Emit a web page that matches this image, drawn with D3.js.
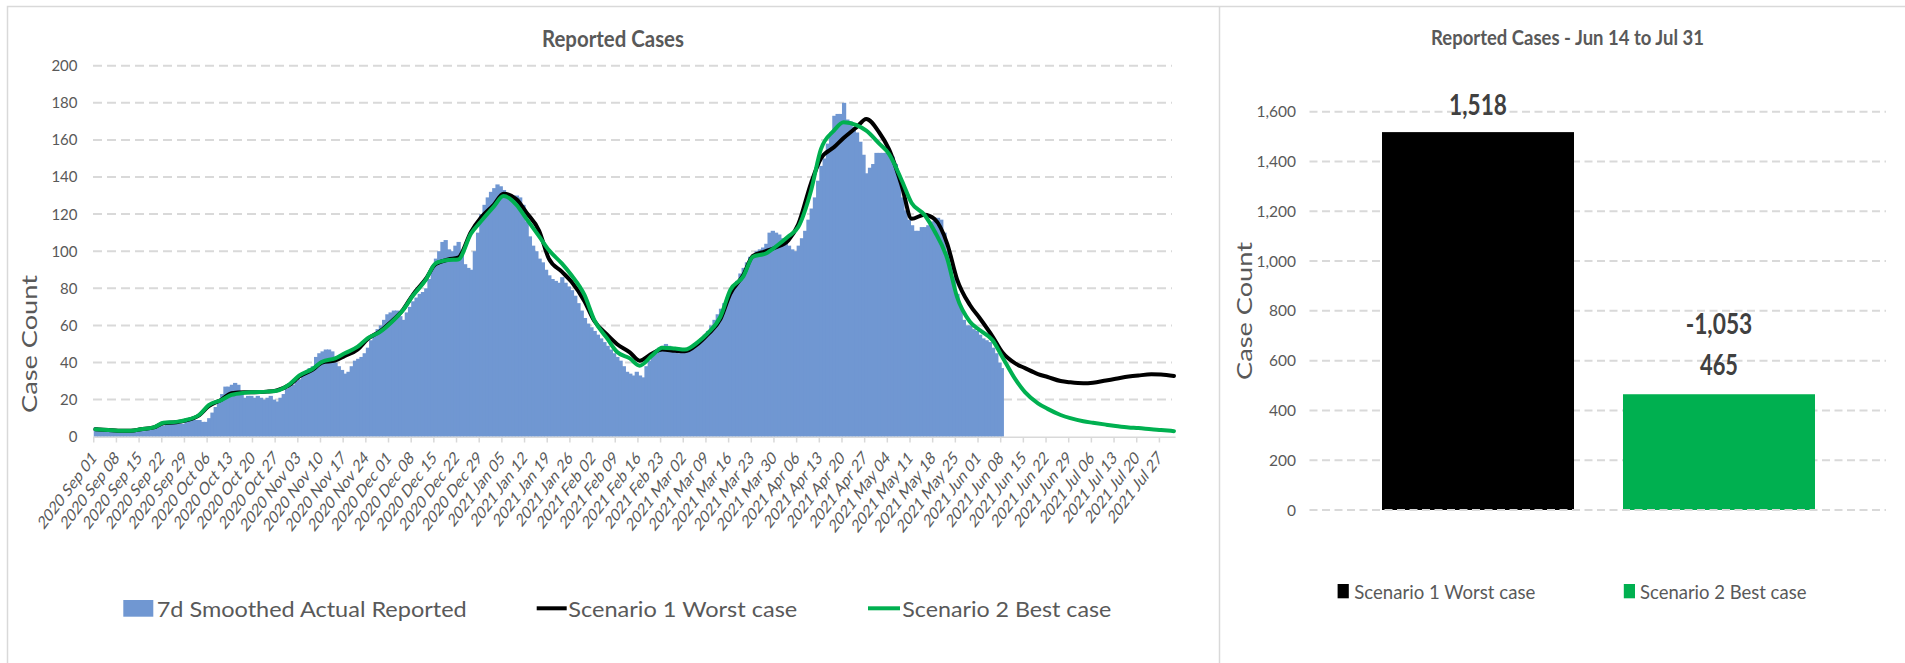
<!DOCTYPE html>
<html>
<head>
<meta charset="utf-8">
<script src="https://cdn.jsdelivr.net/npm/d3@7"></script>
<style>
  body { margin: 0; background: #fff; }
  text { font-family: Lato, "Open Sans", sans-serif; fill: #595959; }
</style>
</head>
<body>
<svg id="chart"></svg>
<script>
// ---------- data ----------
const barStart = "2020 Sep 01";

// 7d smoothed actual reported, one value per day from Sep 01 2020 to Jun 08 2021
const actualReported = [
  5, 4, 4, 3, 3, 3, 3,
  3, 3, 3, 3, 3, 3, 4,
  4, 3, 4, 4, 5, 5, 6,
  6, 7, 7, 8, 8, 7, 7,
  8, 9, 10, 9, 9, 8, 8,
  10, 13, 16, 20, 23, 27, 27,
  28, 29, 28, 24, 21, 22, 22,
  21, 22, 21, 20, 21, 22, 20,
  19, 21, 23, 26, 27, 28, 30,
  31, 33, 35, 37, 38, 43, 45,
  46, 47, 47, 46, 40, 38, 36,
  34, 35, 38, 41, 42, 43, 45,
  48, 52, 55, 58, 60, 63, 66,
  67, 68, 68, 65, 63, 67, 70,
  73, 75, 77, 78, 80, 85, 92,
  96, 100, 105, 106, 101, 100, 103,
  105, 100, 93, 91, 90, 100, 110,
  120, 125, 129, 132, 134, 136, 135,
  133, 131, 130, 130, 130, 129, 125,
  116, 108, 103, 100, 96, 94, 90,
  87, 85, 84, 83, 86, 83, 81,
  79, 76, 72, 68, 64, 61, 59,
  57, 55, 53, 51, 49, 47, 45,
  43, 41, 38, 35, 34, 33, 35,
  33, 32, 38, 41, 44, 46, 48,
  49, 50, 49, 47, 47, 45, 47,
  46, 47, 48, 50, 51, 53, 55,
  57, 60, 63, 66, 69, 72, 75,
  77, 80, 84, 88, 91, 94, 97,
  98, 100, 101, 102, 104, 110, 111,
  110, 109, 107, 105, 103, 101, 100,
  103, 107, 111, 117, 123, 129, 138,
  146, 150, 158, 164, 173, 174, 174,
  180, 171, 170, 167, 164, 159, 152,
  142, 145, 147, 153, 153, 153, 153,
  152, 151, 147, 138, 129, 122, 117,
  114, 111, 111, 113, 113, 114, 116,
  118, 118, 117, 110, 100, 92, 86,
  77, 70, 63, 60, 60, 58, 57,
  55, 53, 52, 51, 48, 45, 40,
  37
];

const lineDates = [
  "2020 Sep 01","2020 Sep 05","2020 Sep 08","2020 Sep 12","2020 Sep 15","2020 Sep 19",
  "2020 Sep 22","2020 Sep 26","2020 Sep 29","2020 Oct 03","2020 Oct 06","2020 Oct 10",
  "2020 Oct 13","2020 Oct 17","2020 Oct 20","2020 Oct 24","2020 Oct 27","2020 Oct 31",
  "2020 Nov 03","2020 Nov 07","2020 Nov 10","2020 Nov 14","2020 Nov 17","2020 Nov 21",
  "2020 Nov 24","2020 Nov 28","2020 Dec 01","2020 Dec 05","2020 Dec 08","2020 Dec 12",
  "2020 Dec 15","2020 Dec 19","2020 Dec 22","2020 Dec 26","2020 Dec 29","2021 Jan 02",
  "2021 Jan 05","2021 Jan 09","2021 Jan 12","2021 Jan 16","2021 Jan 19","2021 Jan 23",
  "2021 Jan 26","2021 Jan 30","2021 Feb 02","2021 Feb 06","2021 Feb 09","2021 Feb 13",
  "2021 Feb 16","2021 Feb 20","2021 Feb 23","2021 Feb 27","2021 Mar 02","2021 Mar 06",
  "2021 Mar 09","2021 Mar 13","2021 Mar 16","2021 Mar 20","2021 Mar 23","2021 Mar 27",
  "2021 Mar 30","2021 Apr 03","2021 Apr 06","2021 Apr 10","2021 Apr 13","2021 Apr 17",
  "2021 Apr 20","2021 Apr 24","2021 Apr 27","2021 May 01","2021 May 04","2021 May 08",
  "2021 May 11","2021 May 15","2021 May 18","2021 May 22","2021 May 25","2021 May 29",
  "2021 Jun 01","2021 Jun 05","2021 Jun 08","2021 Jun 12","2021 Jun 15","2021 Jun 19",
  "2021 Jun 22","2021 Jun 26","2021 Jun 29","2021 Jul 03","2021 Jul 06","2021 Jul 10",
  "2021 Jul 13","2021 Jul 17","2021 Jul 20","2021 Jul 24","2021 Jul 27","2021 Jul 31"
];

const worstCase = [
  4, 3.6, 3.2, 3.2, 4, 5, 7.3, 7.8, 8.8, 11.5, 16.5, 20,
  23.5, 24, 24, 24.3, 25, 28, 32.5, 36, 40, 41, 43.5, 47,
  52.5, 57, 61.5, 68.5, 76.5, 85, 93, 95.5, 96.5, 110.5, 118, 125,
  131, 128, 121, 111, 96, 89, 83.5, 73, 62.5, 55, 50, 45.5,
  41, 45, 47, 46.3, 46, 50, 55, 63.5, 77, 87, 97.5, 100,
  102, 106, 114.5, 137, 150, 156, 161, 166.8, 171.3, 164, 155, 135,
  117.5, 119.7, 117.5, 104, 85, 71, 64, 54, 45.5, 39.5, 37, 33.8,
  32.2, 30, 29.3, 28.8, 29.1, 30.3, 31.2, 32.4, 33, 33.6, 33.5, 32.7
];

const bestCase = [
  4, 3.6, 3.2, 3.2, 4, 5, 7.5, 8, 9, 11.7, 17, 19.8,
  22.5, 23.7, 24, 24.3, 24.8, 28.4, 33, 36.5, 40.4, 42.2, 45, 48.5,
  53, 56.6, 61, 68.3, 76, 84.5, 93.4, 95.2, 95.5, 109.6, 116, 124,
  129.7, 125, 117.7, 108, 100.6, 93.4, 87, 76.4, 63, 53, 45.8, 42.2,
  38.3, 44, 48, 47.5, 47, 51, 55.7, 64.7, 79, 86.3, 97, 98.8,
  102.4, 108, 113, 133, 155, 165, 169.5, 168, 165, 158, 152.5, 138,
  126, 119.5, 111, 96, 75.5, 62, 57.5, 52, 43, 31, 24, 18,
  15, 11.7, 10, 8.3, 7.5, 6.5, 5.8, 5, 4.7, 4, 3.6, 3
];

const tickLabels = [
  "2020 Sep 01","2020 Sep 08","2020 Sep 15","2020 Sep 22","2020 Sep 29","2020 Oct 06",
  "2020 Oct 13","2020 Oct 20","2020 Oct 27","2020 Nov 03","2020 Nov 10","2020 Nov 17",
  "2020 Nov 24","2020 Dec 01","2020 Dec 08","2020 Dec 15","2020 Dec 22","2020 Dec 29",
  "2021 Jan 05","2021 Jan 12","2021 Jan 19","2021 Jan 26","2021 Feb 02","2021 Feb 09",
  "2021 Feb 16","2021 Feb 23","2021 Mar 02","2021 Mar 09","2021 Mar 16","2021 Mar 23",
  "2021 Mar 30","2021 Apr 06","2021 Apr 13","2021 Apr 20","2021 Apr 27","2021 May 04",
  "2021 May 11","2021 May 18","2021 May 25","2021 Jun 01","2021 Jun 08","2021 Jun 15",
  "2021 Jun 22","2021 Jun 29","2021 Jul 06","2021 Jul 13","2021 Jul 20","2021 Jul 27"
];

// right panel: totals Jun 14 to Jul 31
const scenarioNames = ["Scenario 1 Worst case", "Scenario 2 Best case"];
const scenarioTotals = [1518, 465];

// ---------- setup ----------
const BLUE = "#7097d2", BLACK = "#000000", GREEN = "#00b050", GRID = "#d9d9d9";
const parse = d3.utcParse("%Y %b %d");
const fmt = d3.formatLocale({ decimal: ".", thousands: ",", grouping: [3], currency: ["", ""], minus: "-" }).format(",");

const svg = d3.select("#chart").attr("width", 1905).attr("height", 663);

function addText(parent, str, o) {
  const t = parent.append("text")
    .attr("x", o.x).attr("y", o.y)
    .attr("text-anchor", o.anchor || "start")
    .style("font-size", o.size + "px")
    .style("font-weight", o.weight || 400)
    .text(str);
  if (o.fill) t.style("fill", o.fill);
  if (o.len) t.attr("textLength", o.len).attr("lengthAdjust", "spacingAndGlyphs");
  if (o.rotate) t.attr("transform", `rotate(${o.rotate},${o.x},${o.y})`);
  return t;
}

// chart frames
svg.append("path")
  .attr("d", "M7.5,663V6.5H1905M1219.5,6.5V663")
  .attr("fill", "none").attr("stroke", GRID).attr("stroke-width", 1.5);

/* -------------------------
   LEFT: DAILY CASES
-------------------------- */
const left = svg.append("g");
const day0 = parse(barStart);
const x = d3.scaleUtc()
  .domain([day0, parse("2021 Aug 01")])
  .range([93.75, 1175.6]);
const dayW = x(d3.utcDay.offset(day0, 1)) - x(day0);
const y = d3.scaleLinear().domain([0, 200]).range([436.7, 65.7]);

// gridlines + y labels
const yTicks = d3.range(0, 201, 20);
left.selectAll("line.grid")
  .data(yTicks.filter(d => d > 0))
  .join("line")
  .attr("x1", 93).attr("x2", 1172)
  .attr("y1", d => y(d)).attr("y2", d => y(d))
  .attr("stroke", GRID).attr("stroke-width", 2).attr("stroke-dasharray", "9,5");

left.selectAll("text.ylab")
  .data(yTicks)
  .join("text")
  .attr("x", 77.5).attr("y", d => y(d)).attr("dy", "0.36em")
  .attr("text-anchor", "end").style("font-size", "15px")
  .text(d => d);

// bars (slight overlap so neighbouring days join without hairline gaps)
left.selectAll("rect.bar")
  .data(actualReported)
  .join("rect")
  .attr("x", (d, i) => x(d3.utcDay.offset(day0, i)))
  .attr("width", (d, i) => i === actualReported.length - 1 ? dayW : dayW + 1)
  .attr("y", d => y(d))
  .attr("height", d => y(0) - y(d))
  .attr("fill", BLUE);

// x axis
left.append("line")
  .attr("x1", 93).attr("x2", 1175.6).attr("y1", 437.3).attr("y2", 437.3)
  .attr("stroke", GRID).attr("stroke-width", 1.5);
left.selectAll("line.xtick")
  .data(tickLabels)
  .join("line")
  .attr("x1", d => x(parse(d))).attr("x2", d => x(parse(d)))
  .attr("y1", 437.3).attr("y2", 442.5)
  .attr("stroke", GRID).attr("stroke-width", 1.5);
left.selectAll("text.xlab")
  .data(tickLabels)
  .join("text")
  .attr("transform", d => `translate(${x(parse(d)) + dayW / 2 + 2},459) scale(1,1.33) rotate(-45)`)
  .attr("text-anchor", "end").style("font-size", "13.5px")
  .text(d => d);

// scenario lines
const line = d3.line()
  .x(d => x(parse(d.date)) + dayW / 2)
  .y(d => y(d.v))
  .curve(d3.curveMonotoneX);
[[worstCase, BLACK], [bestCase, GREEN]].forEach(([vals, col]) => {
  left.append("path")
    .datum(lineDates.map((date, i) => ({ date, v: vals[i] })))
    .attr("d", line)
    .attr("fill", "none").attr("stroke", col).attr("stroke-width", 4)
    .attr("stroke-linejoin", "round").attr("stroke-linecap", "round");
});

addText(left, "Reported Cases", { x: 613, y: 46.7, anchor: "middle", size: 22, weight: 700, len: 142 });
addText(left, "Case Count", { x: 36.7, y: 344, anchor: "middle", size: 21, len: 138, rotate: -90 });

// legend
left.append("rect").attr("x", 123.3).attr("y", 600).attr("width", 30).attr("height", 16.7).attr("fill", BLUE);
addText(left, "7d Smoothed Actual Reported", { x: 156.7, y: 616.7, size: 21, len: 310 });
left.append("line").attr("x1", 536.7).attr("x2", 566.7).attr("y1", 608.3).attr("y2", 608.3)
  .attr("stroke", BLACK).attr("stroke-width", 4);
addText(left, scenarioNames[0], { x: 568.3, y: 616.7, size: 21, len: 229 });
left.append("line").attr("x1", 868).attr("x2", 900).attr("y1", 608.3).attr("y2", 608.3)
  .attr("stroke", GREEN).attr("stroke-width", 4);
addText(left, scenarioNames[1], { x: 902.3, y: 616.7, size: 21, len: 209 });

/* -------------------------
   RIGHT: TOTALS
-------------------------- */
const right = svg.append("g");
const yR = d3.scaleLinear().domain([0, 1600]).range([510, 111.7]);
const xR = d3.scaleBand().domain(scenarioNames)
  .range([1357.5, 1839.5]).paddingInner(0.2033).paddingOuter(0.1017);
const rTicks = d3.range(0, 1601, 200);
const barColors = [BLACK, GREEN];

right.selectAll("line.grid")
  .data(rTicks.filter(d => d > 0))
  .join("line")
  .attr("x1", 1309.5).attr("x2", 1886)
  .attr("y1", d => yR(d)).attr("y2", d => yR(d))
  .attr("stroke", GRID).attr("stroke-width", 2).attr("stroke-dasharray", "8,4.5");

right.selectAll("text.ylab")
  .data(rTicks)
  .join("text")
  .attr("x", 1296).attr("y", d => yR(d)).attr("dy", "0.36em")
  .attr("text-anchor", "end").style("font-size", "15.5px")
  .text(d => fmt(d));

right.selectAll("rect.bar")
  .data(scenarioTotals)
  .join("rect")
  .attr("x", (d, i) => xR(scenarioNames[i]))
  .attr("width", xR.bandwidth())
  .attr("y", d => yR(d))
  .attr("height", d => yR(0) - yR(d))
  .attr("fill", (d, i) => barColors[i]);

// zero gridline drawn over the bars
right.append("line")
  .attr("x1", 1309.5).attr("x2", 1886).attr("y1", yR(0)).attr("y2", yR(0))
  .attr("stroke", GRID).attr("stroke-width", 2).attr("stroke-dasharray", "8,4.5");

// value labels
const cx = i => xR(scenarioNames[i]) + xR.bandwidth() / 2;
addText(right, fmt(scenarioTotals[0]), { x: cx(0), y: yR(scenarioTotals[0]) - 17, anchor: "middle", size: 29, weight: 700, fill: "#404040", len: 57.8 });
addText(right, fmt(scenarioTotals[1]), { x: cx(1), y: yR(scenarioTotals[1]) - 19.5, anchor: "middle", size: 29, weight: 700, fill: "#404040", len: 38 });
addText(right, fmt(scenarioTotals[1] - scenarioTotals[0]), { x: cx(1), y: yR(scenarioTotals[1]) - 60.5, anchor: "middle", size: 28, weight: 700, fill: "#404040", len: 66.7 });

addText(right, "Reported Cases - Jun 14 to Jul 31", { x: 1567.5, y: 45, anchor: "middle", size: 21, weight: 700, len: 273 });
addText(right, "Case Count", { x: 1252.3, y: 311, anchor: "middle", size: 21, len: 138, rotate: -90 });

// legend
[1337.6, 1623.8].forEach((lx, i) => {
  right.append("rect").attr("x", lx).attr("y", 584).attr("width", 11.2).attr("height", 14.3).attr("fill", barColors[i]);
});
addText(right, scenarioNames[0], { x: 1354.3, y: 598.5, size: 20, len: 181 });
addText(right, scenarioNames[1], { x: 1640, y: 598.5, size: 20, len: 166.4 });
</script>
</body>
</html>
